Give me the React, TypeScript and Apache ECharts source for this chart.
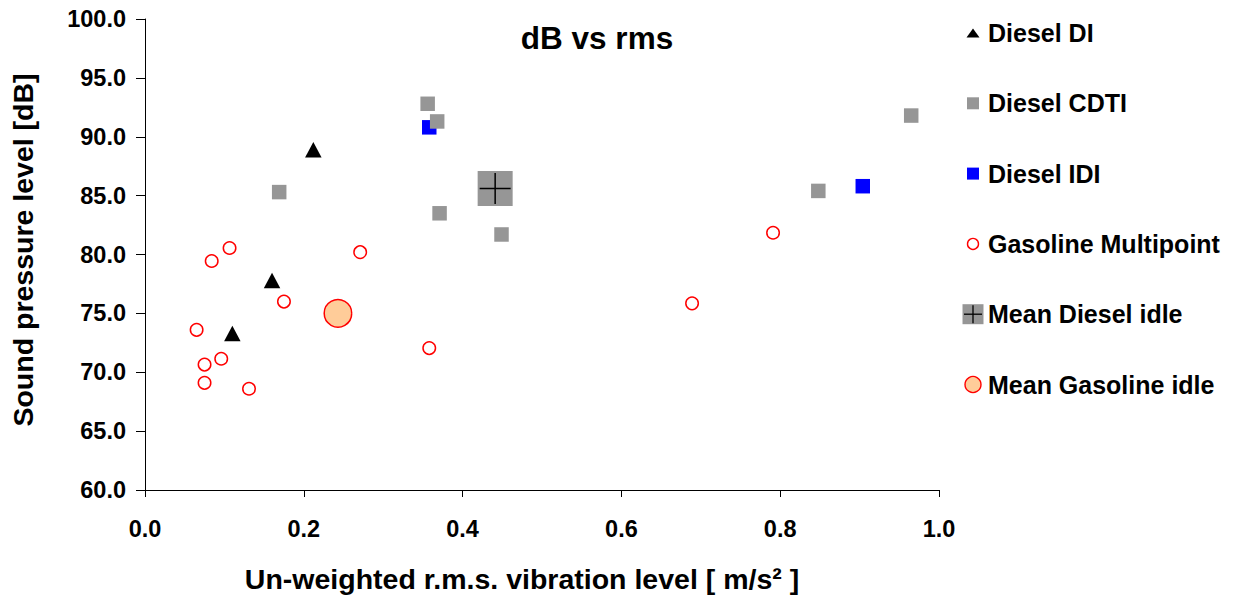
import React, { useEffect, useRef } from "react";
import * as echarts from "echarts";

// ---- data (x: un-weighted r.m.s. vibration level, y: sound pressure level dB)
const dieselDI: number[][] = [
  [0.212, 88.9],
  [0.16, 77.8],
  [0.11, 73.3],
];
const dieselCDTI: number[][] = [
  [0.169, 85.3],
  [0.356, 92.8],
  [0.368, 91.3],
  [0.371, 83.5],
  [0.449, 81.7],
  [0.848, 85.4],
  [0.965, 91.8],
];
const dieselIDI: number[][] = [
  [0.358, 90.8],
  [0.904, 85.8],
];
const gasolineMultipoint: number[][] = [
  [0.065, 73.6],
  [0.075, 70.65],
  [0.075, 69.1],
  [0.096, 71.15],
  [0.131, 68.6],
  [0.084, 79.45],
  [0.1065, 80.55],
  [0.175, 76.0],
  [0.271, 80.2],
  [0.358, 72.05],
  [0.689, 75.85],
  [0.791, 81.85],
];
const meanDieselIdle: number[][] = [[0.441, 85.6]];
const meanGasolineIdle: number[][] = [[0.243, 75.0]];

const legendNames = [
  "Diesel DI",
  "Diesel CDTI",
  "Diesel IDI",
  "Gasoline Multipoint",
  "Mean Diesel idle",
  "Mean Gasoline idle",
];

const xMin = 0;
const xMax = 1.0;
const xStep = 0.2;
const yMin = 60;
const yMax = 100;
const yStep = 5;

const FONT = '"Liberation Sans", Arial, sans-serif';
const GREY = "#969696";

export default function App() {
  const ref = useRef<HTMLDivElement>(null);
  useEffect(() => {
    if (!ref.current) return;
    const chart = echarts.init(ref.current, null, { renderer: "svg" });

    const legX = 973;
    const legTextX = 988;
    const legY0 = 33;
    const legGap = 70.3;
    const ly = (i: number) => legY0 + legGap * i;

    const legendGraphics: any[] = [
      {
        type: "polygon",
        shape: { points: [[966.5, ly(0) + 4.5], [979.5, ly(0) + 4.5], [973, ly(0) - 4.5]] },
        style: { fill: "#000" },
      },
      { type: "rect", shape: { x: legX - 6, y: ly(1) - 6, width: 12, height: 12 }, style: { fill: GREY } },
      { type: "rect", shape: { x: legX - 6, y: ly(2) - 6, width: 12, height: 12 }, style: { fill: "#0000ff" } },
      { type: "circle", shape: { cx: legX, cy: ly(3), r: 5.5 }, style: { fill: "#fff", stroke: "#ff0000", lineWidth: 1.4 } },
      { type: "rect", shape: { x: legX - 10.5, y: ly(4) - 10, width: 21, height: 20 }, style: { fill: GREY } },
      { type: "line", shape: { x1: legX - 9, y1: ly(4), x2: legX + 9, y2: ly(4) }, style: { stroke: "#000", lineWidth: 1.3 } },
      { type: "line", shape: { x1: legX, y1: ly(4) - 9, x2: legX, y2: ly(4) + 9 }, style: { stroke: "#000", lineWidth: 1.3 } },
      { type: "circle", shape: { cx: legX, cy: ly(5), r: 8 }, style: { fill: "#ffcc99", stroke: "#ff0000", lineWidth: 1.4 } },
    ];
    legendNames.forEach((n, i) => {
      legendGraphics.push({
        type: "text",
        style: {
          text: n,
          x: legTextX,
          y: ly(i),
          font: `bold 25px ${FONT}`,
          fill: "#000",
          textAlign: "left",
          textVerticalAlign: "middle",
        },
      });
    });

    chart.setOption({
      animation: false,
      backgroundColor: "#fff",
      textStyle: { fontFamily: FONT },
      title: {
        text: "dB vs rms",
        left: 592,
        textAlign: "center",
        top: 17,
        textStyle: { fontFamily: FONT, fontWeight: "bold", fontSize: 31.5, color: "#000" },
      },
      grid: { left: 145, top: 19, width: 794, height: 471, containLabel: false },
      xAxis: {
        type: "value",
        min: xMin,
        max: xMax,
        interval: xStep,
        name: "Un-weighted r.m.s. vibration level [ m/s² ]",
        nameLocation: "middle",
        nameGap: 74,
        nameTextStyle: {
          fontFamily: FONT,
          fontWeight: "bold",
          fontSize: 28.5,
          color: "#000",
          padding: [0, 40, 0, 0],
        },
        axisLine: { show: true, onZero: false, lineStyle: { color: "#000", width: 1 } },
        axisTick: { show: true, length: 7, lineStyle: { color: "#000" } },
        axisLabel: {
          margin: 27,
          fontFamily: FONT,
          fontWeight: "bold",
          fontSize: 23.5,
          color: "#000",
          formatter: (v: number) => v.toFixed(1),
        },
        splitLine: { show: false },
      },
      yAxis: {
        type: "value",
        min: yMin,
        max: yMax,
        interval: yStep,
        name: "Sound pressure level [dB]",
        nameLocation: "middle",
        nameGap: 108,
        nameRotate: 90,
        nameTextStyle: {
          fontFamily: FONT,
          fontWeight: "bold",
          fontSize: 28.5,
          color: "#000",
          padding: [0, 0, 0, 9],
        },
        axisLine: { show: true, onZero: false, lineStyle: { color: "#000", width: 1 } },
        axisTick: { show: true, length: 9, lineStyle: { color: "#000" } },
        axisLabel: {
          margin: 19,
          fontFamily: FONT,
          fontWeight: "bold",
          fontSize: 23.5,
          color: "#000",
          formatter: (v: number) => v.toFixed(1),
        },
        splitLine: { show: false },
      },
      series: [
        {
          name: "Diesel DI",
          type: "scatter",
          data: dieselDI,
          symbol: "triangle",
          symbolSize: [16.5, 15.5],
          itemStyle: { color: "#000", opacity: 1 },
        },
        {
          name: "Diesel IDI",
          type: "scatter",
          data: dieselIDI,
          symbol: "rect",
          symbolSize: 14.5,
          itemStyle: { color: "#0000ff", opacity: 1 },
        },
        {
          name: "Diesel CDTI",
          type: "scatter",
          data: dieselCDTI,
          symbol: "rect",
          symbolSize: 14.5,
          itemStyle: { color: GREY, opacity: 1 },
        },
        {
          name: "Gasoline Multipoint",
          type: "scatter",
          data: gasolineMultipoint,
          symbol: "circle",
          symbolSize: 12.5,
          itemStyle: { color: "#fff", borderColor: "#ff0000", borderWidth: 1.5, opacity: 1 },
        },
        {
          name: "Mean Diesel idle",
          type: "scatter",
          data: meanDieselIdle,
          symbol: "rect",
          symbolSize: 35,
          itemStyle: { color: GREY, opacity: 1 },
        },
        {
          name: "Mean Diesel idle cross",
          type: "scatter",
          data: meanDieselIdle,
          symbol: "path://M0,15L30,15M15,0L15,30",
          symbolSize: 31,
          itemStyle: { color: "none", borderColor: "#000", borderWidth: 1.5, opacity: 1 },
        },
        {
          name: "Mean Gasoline idle",
          type: "scatter",
          data: meanGasolineIdle,
          symbol: "circle",
          symbolSize: 27.5,
          itemStyle: { color: "#ffcc99", borderColor: "#ff0000", borderWidth: 1.5, opacity: 1 },
        },
      ],
      graphic: legendGraphics,
    });

    return () => chart.dispose();
  }, []);

  return (
    <div
      ref={ref}
      style={{ position: "fixed", left: 0, top: 0, width: 1237, height: 599, background: "#fff" }}
    />
  );
}
